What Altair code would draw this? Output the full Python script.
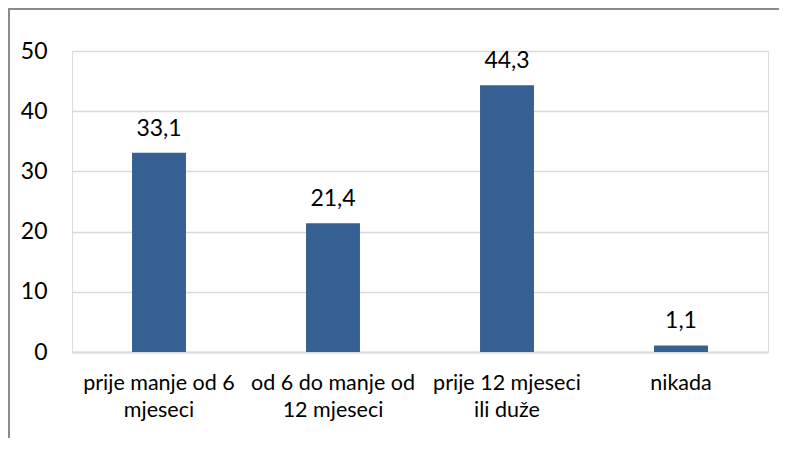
import altair as alt
import pandas as pd

categories = ["prije manje od 6\nmjeseci", "od 6 do manje od\n12 mjeseci", "prije 12 mjeseci\nili duže", "nikada"]
values = [33.1, 21.4, 44.3, 1.1]
value_labels = ["33,1", "21,4", "44,3", "1,1"]
y_ticks = [0, 10, 20, 30, 40, 50]

df = pd.DataFrame({"cat": categories, "val": values, "lab": value_labels})

FONT = "Lato"

x = alt.X("cat:N", sort=categories, title=None,
          scale=alt.Scale(paddingInner=0.69, paddingOuter=0.345),
          axis=alt.Axis(labelAngle=0, labelExpr="split(datum.label, '\\n')",
                        labelFontSize=21.5, labelFont=FONT, labelColor="#000000",
                        labelPadding=20, labelLineHeight=27, ticks=False,
                        domainColor="#d9d9d9", domainWidth=2, grid=False))
y = alt.Y("val:Q", title=None,
          scale=alt.Scale(domain=[0, 50], nice=False),
          axis=alt.Axis(values=y_ticks, labelFontSize=23, labelFont=FONT, labelColor="#000000",
                        labelPadding=25, ticks=False, domain=False,
                        gridColor="#d9d9d9", gridWidth=1.5))

base = alt.Chart(df)
bars = base.mark_bar(color="#366092").encode(x=x, y=y)
text = base.mark_text(font=FONT, fontSize=23, baseline="alphabetic", dy=-17, color="#000000").encode(
    x=alt.X("cat:N", sort=categories), y="val:Q", text="lab:N")

border = alt.Chart(pd.DataFrame({"a": [0]})).mark_rect(fill=None, stroke="#8c8c8c", strokeWidth=2).encode(
    x=alt.value(-63), y=alt.value(-42), x2=alt.value(900), y2=alt.value(900))

chart = alt.layer(border, bars, text).properties(
    width=696, height=301,
    autosize=alt.AutoSizeParams(type="none"),
    padding={"left": 64, "top": 43, "right": 11, "bottom": 86},
).configure_view(stroke=None).configure(background="white")

chart.save("out.html", embed_options={"renderer": "svg", "actions": False})
